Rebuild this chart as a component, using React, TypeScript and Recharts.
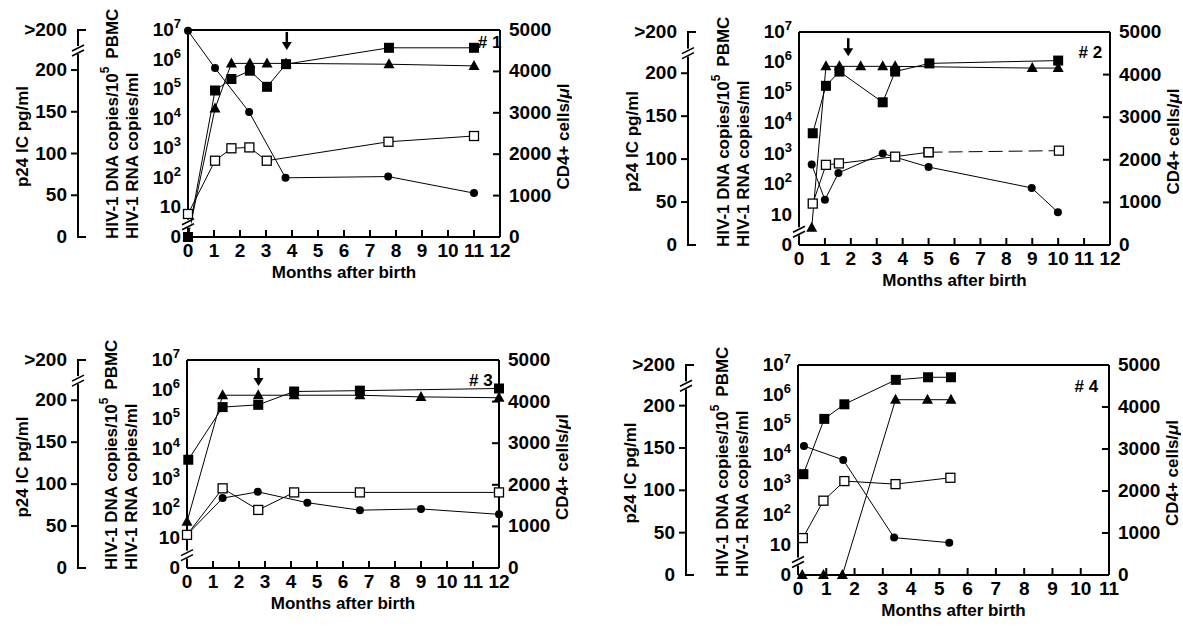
import React from 'react';
import { LineChart, Line, XAxis, YAxis, ReferenceLine, ReferenceDot } from 'recharts';

const FONT = '"Liberation Sans", Arial, Helvetica, sans-serif';

// ---- patient #1
const p1RnaMonths = [0, 1.04, 1.67, 2.38, 3.04, 3.77, 7.73, 11];
const p1Rna = [0, 90000, 220000, 420000, 120000, 700000, 2500000, 2500000];
const p1DnaMonths = [0, 1.04, 1.67, 2.36, 3.03, 7.71, 11];
const p1Dna = [6, 380, 1000, 1070, 380, 1660, 2600];
const p1P24Months = [0, 1.04, 1.67, 2.38, 3.04, 3.77, 7.73, 11];
const p1P24 = [0, 154, 208, 208, 208, 208, 207, 205];
const p1Cd4Months = [0, 1.04, 2.35, 3.75, 7.7, 11];
const p1Cd4 = [4980, 4080, 3020, 1430, 1460, 1060];

// ---- patient #2
const p2RnaMonths = [0.53, 1.04, 1.56, 3.23, 3.71, 5.03, 10];
const p2Rna = [4700, 170000, 500000, 49000, 500000, 930000, 1150000];
const p2DnaMonths = [0.53, 1.04, 1.54, 3.71, 5.0, 10.03];
const p2Dna = [23, 430, 480, 800, 1120, 1260];
const p2P24Months = [0.49, 1.04, 1.56, 2.38, 3.23, 3.71, 9.0, 10];
const p2P24 = [20, 208, 208, 208, 208, 208, 206, 206];
const p2Cd4Months = [0.49, 1.0, 1.52, 3.23, 5.0, 8.98, 9.99];
const p2Cd4 = [1890, 1060, 1690, 2150, 1830, 1340, 770];

// ---- patient #3
const p3RnaMonths = [0.05, 1.37, 2.74, 4.12, 6.65, 12];
const p3Rna = [4400, 260000, 310000, 870000, 930000, 1100000];
const p3DnaMonths = [0, 1.37, 2.74, 4.12, 6.65, 12];
const p3Dna = [13, 480, 90, 350, 350, 350];
const p3P24Months = [0, 1.37, 2.74, 4.12, 6.65, 9.0, 12];
const p3P24 = [55, 206, 206, 206, 206, 204, 203];
const p3Cd4Months = [0, 1.37, 2.72, 4.63, 6.65, 9.0, 12];
const p3Cd4 = [800, 1680, 1830, 1570, 1390, 1420, 1290];

// ---- patient #4
const p4RnaMonths = [0.19, 0.93, 1.64, 3.46, 4.6, 5.41];
const p4Rna = [2300, 160000, 490000, 3200000, 3900000, 3900000];
const p4DnaMonths = [0.17, 0.9, 1.64, 3.45, 5.39];
const p4Dna = [17, 300, 1350, 1070, 1740];
const p4P24Months = [0.15, 0.9, 1.57, 3.45, 4.58, 5.41];
const p4P24 = [0, 0, 0, 207, 207, 207];
const p4Cd4Months = [0.21, 1.6, 3.4, 5.35];
const p4Cd4 = [3070, 2740, 890, 770];

const logTicks = [0, 0.45, 1, 2, 3, 4, 5, 6, 7];
const p24Ticks = [0, 50, 100, 150, 200, 224, 248];
const cd4Ticks = [0, 1000, 2000, 3000, 4000, 5000];

type Pt = { m: number; v: number };
const toLog = (v: number) => (v <= 0 ? 0 : Math.log10(v));
const pts = (ms: number[], vs: number[], f: (v: number) => number = (v) => v): Pt[] =>
  ms.map((m, i) => ({ m, v: f(vs[i]) }));

interface Spec {
  tag: string;
  xMax: number;
  rna: Pt[];
  dna: Pt[];
  p24: Pt[];
  cd4: Pt[];
  dnaDashFrom?: number;
  arrow?: [number, number];
  tagPos: [number, number];
}

const specs: Spec[] = [
  {
    tag: '# 1', xMax: 12,
    rna: pts(p1RnaMonths, p1Rna, toLog), dna: pts(p1DnaMonths, p1Dna, toLog),
    p24: pts(p1P24Months, p1P24), cd4: pts(p1Cd4Months, p1Cd4),
    arrow: [3.8, 6.63], tagPos: [11.6, 6.6],
  },
  {
    tag: '# 2', xMax: 12,
    rna: pts(p2RnaMonths, p2Rna, toLog), dna: pts(p2DnaMonths, p2Dna, toLog),
    p24: pts(p2P24Months, p2P24), cd4: pts(p2Cd4Months, p2Cd4),
    dnaDashFrom: 5, arrow: [1.9, 6.5], tagPos: [11.24, 6.34],
  },
  {
    tag: '# 3', xMax: 12,
    rna: pts(p3RnaMonths, p3Rna, toLog), dna: pts(p3DnaMonths, p3Dna, toLog),
    p24: pts(p3P24Months, p3P24), cd4: pts(p3Cd4Months, p3Cd4),
    arrow: [2.75, 6.43], tagPos: [11.3, 6.33],
  },
  {
    tag: '# 4', xMax: 11,
    rna: pts(p4RnaMonths, p4Rna, toLog), dna: pts(p4DnaMonths, p4Dna, toLog),
    p24: pts(p4P24Months, p4P24), cd4: pts(p4Cd4Months, p4Cd4),
    tagPos: [10.2, 6.3],
  },
];

type Box = { p24Axis: number; logAxis: number; rightAxis: number; plotTop: number; plotBottom: number };
const boxes: Box[] = [
  { p24Axis: 78, logAxis: 188, rightAxis: 500, plotTop: 30, plotBottom: 237 },
  { p24Axis: 688, logAxis: 799, rightAxis: 1110, plotTop: 32, plotBottom: 245 },
  { p24Axis: 78, logAxis: 187, rightAxis: 499, plotTop: 360, plotBottom: 568 },
  { p24Axis: 686, logAxis: 798, rightAxis: 1109, plotTop: 365, plotBottom: 575 },
];

const txt = { fontFamily: FONT, fontWeight: 700, fill: '#000' } as const;
const axisLine = { stroke: '#000', strokeWidth: 2 };
const TICK_FS = 19;
const RIGHT_W = 72;

const FilledSquare = (p: any) => (
  <rect key={`fs${p.index}`} x={p.cx - 5} y={p.cy - 5} width={10} height={10} fill="#000" />
);
const OpenSquare = (p: any) => (
  <rect key={`os${p.index}`} x={p.cx - 4.5} y={p.cy - 4.5} width={9} height={9} fill="#fff" stroke="#000" strokeWidth={1.3} />
);
const Dot = (p: any) => <circle key={`c${p.index}`} cx={p.cx} cy={p.cy} r={4} fill="#000" />;
const Tri = (p: any) => (
  <path key={`t${p.index}`} d={`M${p.cx},${p.cy - 6} L${p.cx + 5.5},${p.cy + 4} L${p.cx - 5.5},${p.cy + 4} Z`} fill="#000" />
);

const BreakMark = ({ x, y }: { x: number; y: number }) => (
  <g>
    <rect x={x - 3} y={y - 4} width={6} height={8} fill="#fff" />
    <line x1={x - 6} y1={y + 1} x2={x + 6} y2={y - 5} stroke="#000" strokeWidth={1.6} />
    <line x1={x - 6} y1={y + 6} x2={x + 6} y2={y} stroke="#000" strokeWidth={1.6} />
  </g>
);

const LogTick = (p: any) => {
  const { x, y, payload } = p;
  const v = payload.value;
  if (v === 0.45) return <BreakMark x={x} y={y} />;
  return (
    <text x={x - 7} y={y + 6} textAnchor="end" fontSize={TICK_FS} {...txt}>
      {v === 0 ? '0' : '10'}
      {v >= 2 && (
        <tspan dy={-8} fontSize={13}>
          {v}
        </tspan>
      )}
    </text>
  );
};

const P24Tick = (p: any) => {
  const { x, y, payload } = p;
  const v = payload.value;
  if (v === 224) return <BreakMark x={x} y={y} />;
  const edge = v === 0 || v === 248;
  return (
    <g>
      <path d={edge ? `M${x - 1},${y}H${x + 8}` : `M${x - 7},${y}H${x}`} stroke="#000" strokeWidth={2} fill="none" />
      <text x={x - 11} y={y + 6} textAnchor="end" fontSize={TICK_FS} {...txt}>
        {v === 248 ? '>200' : v}
      </text>
    </g>
  );
};

const Cd4Tick = (p: any) => {
  const { x, y, payload } = p;
  const v = payload.value;
  return (
    <g>
      {v > 0 && v < 5000 && <path d={`M${x - 7},${y}H${x}`} stroke="#000" strokeWidth={2} fill="none" />}
      <text x={x + 9} y={y + 6} textAnchor="start" fontSize={TICK_FS} {...txt}>
        {v}
      </text>
    </g>
  );
};

const vbOf = (p: any) => p.viewBox ?? p;

function Panel({ spec, box }: { spec: Spec; box: Box }) {
  const left = box.p24Axis - 78;
  const top = box.plotTop - 30;
  const width = box.rightAxis - left + RIGHT_W;
  const height = box.plotBottom - top + 55;
  const logW = box.logAxis - box.p24Axis;
  const xTicks = Array.from({ length: spec.xMax + 1 }, (_, i) => i);

  const dnaSolid = spec.dnaDashFrom == null ? spec.dna : spec.dna.filter((d) => d.m <= spec.dnaDashFrom!);
  const dnaDashed = spec.dnaDashFrom == null ? [] : spec.dna.filter((d) => d.m >= spec.dnaDashFrom!);

  const XTick = (p: any) => {
    const { x, y, payload } = p;
    const v = payload.value;
    return (
      <g>
        {v > 0 && v < spec.xMax && <path d={`M${x},${y}V${y - 7}`} stroke="#000" strokeWidth={2} fill="none" />}
        <text x={x} y={y + 20} textAnchor="middle" fontSize={TICK_FS} {...txt}>
          {v}
        </text>
      </g>
    );
  };

  const xLabel = (p: any) => {
    const vb = vbOf(p);
    return (
      <text x={vb.x + vb.width / 2} y={vb.y + 41} textAnchor="middle" fontSize={17} {...txt}>
        Months after birth
      </text>
    );
  };

  // the log axis box starts where the p24 axis line sits, so the p24 line is drawn here as well
  const logLabel = (p: any) => {
    const vb = vbOf(p);
    const xr = vb.x + vb.width;
    const yb = vb.y + vb.height + 2;
    const dx = xr - 76;
    const rx = xr - 56;
    return (
      <g>
        <path d={`M${vb.x},${vb.y}V${vb.y + vb.height}`} stroke="#000" strokeWidth={2} fill="none" />
        <text x={dx} y={yb} transform={`rotate(-90 ${dx} ${yb})`} fontSize={17} dominantBaseline="central" {...txt}>
          HIV-1 DNA copies/10
          <tspan dy={-7} fontSize={12}>5</tspan>
          <tspan dy={7} dx={8}>PBMC</tspan>
        </text>
        <text x={rx} y={yb} transform={`rotate(-90 ${rx} ${yb})`} fontSize={17} dominantBaseline="central" {...txt}>
          HIV-1 RNA copies/ml
        </text>
      </g>
    );
  };

  const p24Label = (p: any) => {
    const vb = vbOf(p);
    const ax = vb.x + vb.width;
    const cx = ax - 56;
    const cy = vb.y + vb.height / 2 + 3;
    return (
      <text x={cx} y={cy} transform={`rotate(-90 ${cx} ${cy})`} textAnchor="middle" dominantBaseline="central" fontSize={17} {...txt}>
        p24 IC pg/ml
      </text>
    );
  };

  const cd4Label = (p: any) => {
    const vb = vbOf(p);
    const cx = vb.x + 63;
    const cy = vb.y + vb.height / 2 + 3;
    return (
      <text x={cx} y={cy} transform={`rotate(-90 ${cx} ${cy})`} textAnchor="middle" dominantBaseline="central" fontSize={17} {...txt}>
        CD4+ cells/<tspan fontStyle="italic">μ</tspan>l
      </text>
    );
  };

  const ArrowShape = (p: any) => (
    <g>
      <path d={`M${p.cx},${p.cy - 9}V${p.cy + 3}`} stroke="#000" strokeWidth={2.5} fill="none" />
      <path d={`M${p.cx - 5},${p.cy + 1} L${p.cx + 5},${p.cy + 1} L${p.cx},${p.cy + 9} Z`} fill="#000" />
    </g>
  );

  const TagShape = (p: any) => (
    <text x={p.cx} y={p.cy + 6} textAnchor="middle" fontSize={17} {...txt}>
      {spec.tag}
    </text>
  );

  return (
    <div style={{ position: 'absolute', left, top }}>
      <LineChart width={width} height={height} margin={{ top: 30, right: 0, bottom: 5, left: 8 }}>
        <XAxis
          dataKey="m"
          type="number"
          domain={[0, spec.xMax]}
          ticks={xTicks}
          interval={0}
          height={50}
          tickSize={0}
          tickMargin={0}
          tickLine={false}
          axisLine={axisLine}
          tick={XTick}
          label={xLabel}
        />
        <YAxis
          yAxisId="log"
          type="number"
          domain={[0, 7]}
          ticks={logTicks}
          interval={0}
          width={logW}
          tickSize={0}
          tickMargin={0}
          tickLine={false}
          axisLine={axisLine}
          tick={LogTick}
          label={logLabel}
        />
        <YAxis
          yAxisId="p24"
          type="number"
          domain={[0, 248]}
          ticks={p24Ticks}
          interval={0}
          width={70}
          tickSize={0}
          tickMargin={0}
          tickLine={false}
          axisLine={axisLine}
          tick={P24Tick}
          label={p24Label}
        />
        <YAxis
          yAxisId="cd4"
          orientation="right"
          type="number"
          domain={[0, 5000]}
          ticks={cd4Ticks}
          interval={0}
          width={RIGHT_W}
          tickSize={0}
          tickMargin={0}
          tickLine={false}
          axisLine={axisLine}
          tick={Cd4Tick}
          label={cd4Label}
        />
        <ReferenceLine yAxisId="log" y={7} stroke="#000" strokeWidth={2} />
        <Line yAxisId="p24" data={spec.p24} dataKey="v" stroke="#000" strokeWidth={1} dot={Tri} isAnimationActive={false} />
        <Line yAxisId="log" data={spec.rna} dataKey="v" stroke="#000" strokeWidth={1} dot={FilledSquare} isAnimationActive={false} />
        <Line yAxisId="cd4" data={spec.cd4} dataKey="v" stroke="#000" strokeWidth={1} dot={Dot} isAnimationActive={false} />
        <Line yAxisId="log" data={dnaSolid} dataKey="v" stroke="#000" strokeWidth={1} dot={OpenSquare} isAnimationActive={false} />
        {dnaDashed.length > 0 && (
          <Line yAxisId="log" data={dnaDashed} dataKey="v" stroke="#000" strokeWidth={1} strokeDasharray="14 6" dot={OpenSquare} isAnimationActive={false} />
        )}
        {spec.arrow && (
          <ReferenceDot yAxisId="log" x={spec.arrow[0]} y={spec.arrow[1]} r={0} shape={ArrowShape} ifOverflow="visible" />
        )}
        <ReferenceDot yAxisId="log" x={spec.tagPos[0]} y={spec.tagPos[1]} r={0} shape={TagShape} ifOverflow="visible" />
      </LineChart>
    </div>
  );
}

export default function App() {
  return (
    <div>
      {specs.map((s, i) => (
        <Panel key={s.tag} spec={s} box={boxes[i]} />
      ))}
    </div>
  );
}
